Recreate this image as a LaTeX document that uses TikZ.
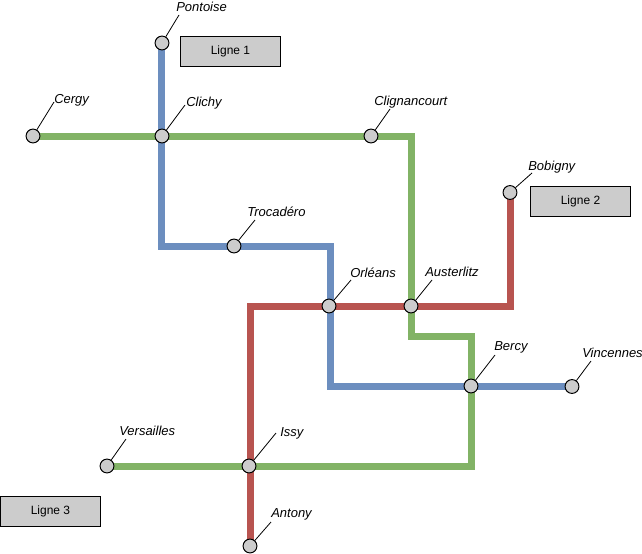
\documentclass[tikz,border=0pt]{standalone}
\usepackage{fontspec}
\setmainfont{Liberation Sans}
\definecolor{blueline}{HTML}{6C8EBF}
\definecolor{greenline}{HTML}{82B366}
\definecolor{redline}{HTML}{B85450}
\definecolor{stgray}{HTML}{CCCCCC}
\tikzset{
 station/.style={circle,draw=black,fill=stgray,line width=0.75pt,minimum size=10.4pt,inner sep=0pt},
 legendbox/.style={rectangle,draw=black,fill=stgray,line width=0.75pt,minimum width=75pt,minimum height=22.5pt,inner sep=0pt,font=\fontsize{9}{11}\selectfont},
 stlabel/.style={anchor=west,inner sep=0pt,font=\fontsize{9.75}{11}\selectfont\itshape,text=black},
 leader/.style={draw=black,line width=0.6pt},
 metro/.style={line width=5.25pt,line cap=butt,line join=miter},
}
\begin{document}
\begin{tikzpicture}[x=0.75pt,y=-0.75pt]
\useasboundingbox[fill=white] (0,0) rectangle (642,553);
% corners
\coordinate (b1) at (161.5,246);
\coordinate (b2) at (330.5,246);
\coordinate (b3) at (330.5,386);
\coordinate (g1) at (411,136);
\coordinate (g2) at (411,336);
\coordinate (g3) at (471,336);
\coordinate (g4) at (471,466);
\coordinate (r1) at (510,306);
\coordinate (r2) at (250,306);
% stations
\coordinate (pPontoise) at (162,43);
\coordinate (pClichy) at (162,136);
\coordinate (pCergy) at (33,136);
\coordinate (pClign) at (371,136);
\coordinate (pTroca) at (234,246);
\coordinate (pOrleans) at (329,306);
\coordinate (pAust) at (411,306);
\coordinate (pBobigny) at (510,192.5);
\coordinate (pBercy) at (471,386);
\coordinate (pVinc) at (572,386.5);
\coordinate (pIssy) at (249,466);
\coordinate (pVers) at (107,466);
\coordinate (pAntony) at (250,546);
% lines
\draw[metro,blueline] (pPontoise -| b1) -- (b1) -- (b2) -- (b3) -- (pVinc |- b3);
\draw[metro,redline] (pBobigny) -- (r1) -- (r2) -- (pAntony);
\draw[metro,greenline] (pCergy) -- (g1) -- (g2) -- (g3) -- (g4) -- (pVers);
% station nodes
\node[station] (Pontoise) at (pPontoise) {};
\node[station] (Clichy) at (pClichy) {};
\node[station] (Cergy) at (pCergy) {};
\node[station] (Clignancourt) at (pClign) {};
\node[station] (Trocadero) at (pTroca) {};
\node[station] (Orleans) at (pOrleans) {};
\node[station] (Austerlitz) at (pAust) {};
\node[station] (Bobigny) at (pBobigny) {};
\node[station] (Bercy) at (pBercy) {};
\node[station] (Vincennes) at (pVinc) {};
\node[station] (Issy) at (pIssy) {};
\node[station] (Versailles) at (pVers) {};
\node[station] (Antony) at (pAntony) {};
% labels
\node[stlabel] (lPontoise) at (176,7) {Pontoise};
\node[stlabel] (lClichy) at (186,103) {Clichy};
\node[stlabel] (lCergy) at (54,100) {Cergy};
\node[stlabel] (lClign) at (374,102) {Clignancourt};
\node[stlabel] (lTroca) at (247,212) {Trocadéro};
\node[stlabel] (lOrleans) at (350,273) {Orléans};
\node[stlabel] (lAust) at (425,272) {Austerlitz};
\node[stlabel] (lBobigny) at (528,167) {Bobigny};
\node[stlabel] (lBercy) at (494,347) {Bercy};
\node[stlabel] (lVinc) at (582,353) {Vincennes};
\node[stlabel] (lIssy) at (280,433) {Issy};
\node[stlabel] (lVers) at (119,431) {Versailles};
\node[stlabel] (lAntony) at (271,514) {Antony};
% leaders
\coordinate (ePontoise) at (179,15);
\coordinate (eClichy) at (185,105);
\coordinate (eCergy) at (54,102);
\coordinate (eClign) at (390,109);
\coordinate (eTroca) at (255,220);
\coordinate (eOrleans) at (351,280);
\coordinate (eAust) at (432,280);
\coordinate (eBobigny) at (532,173);
\coordinate (eBercy) at (495,355);
\coordinate (eVinc) at (591,361);
\coordinate (eIssy) at (276,433);
\coordinate (eVers) at (126,439);
\coordinate (eAntony) at (271,522);
\foreach \s/\e in {Pontoise/ePontoise,Clichy/eClichy,Cergy/eCergy,Clignancourt/eClign,Trocadero/eTroca,Orleans/eOrleans,Austerlitz/eAust,Bobigny/eBobigny,Bercy/eBercy,Vincennes/eVinc,Issy/eIssy,Versailles/eVers,Antony/eAntony}
  \draw[leader] (\s) -- (\e);
% legend
\node[legendbox] (L1) at (230.5,51) {Ligne 1};
\node[legendbox] (L2) at (580.5,201) {Ligne 2};
\node[legendbox] (L3) at (50.5,511) {Ligne 3};
\end{tikzpicture}
\end{document}
